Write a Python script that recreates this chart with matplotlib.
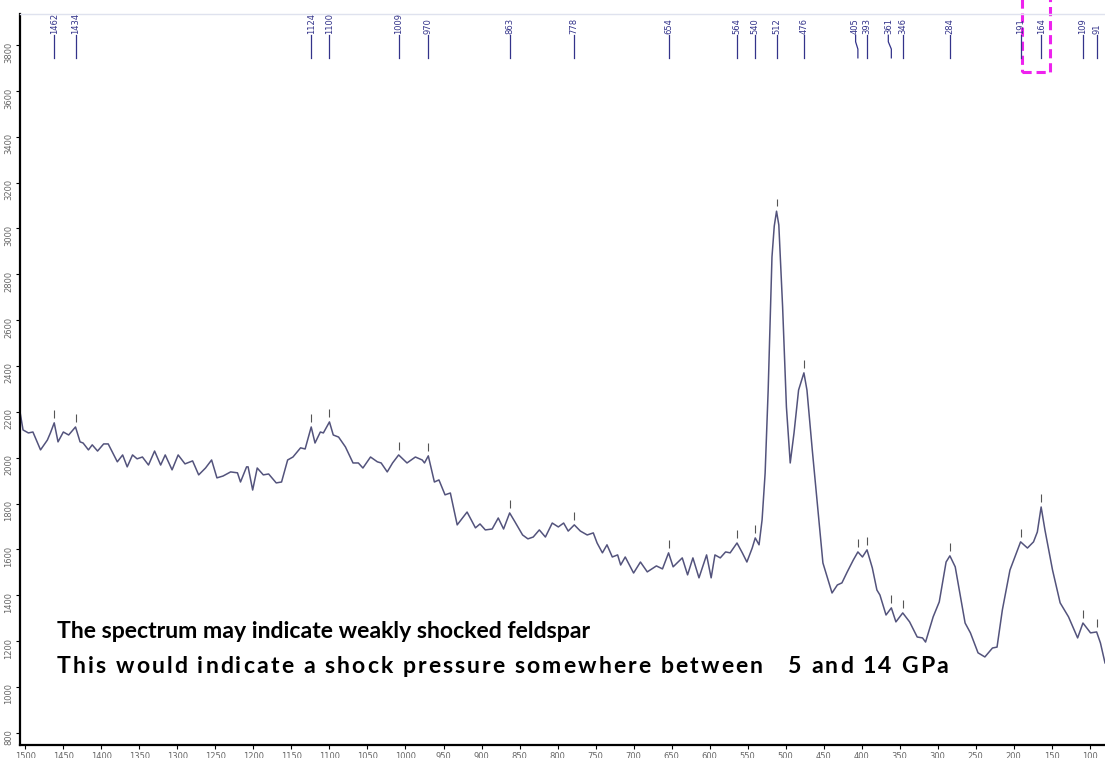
import numpy as np
import matplotlib.pyplot as plt
import matplotlib.transforms as mtransforms
from matplotlib.patches import Rectangle
from matplotlib.font_manager import FontProperties

# Raman spectrum (wavenumber in cm-1, intensity in counts)
wavenumber = [1507, 1503, 1496, 1490, 1480, 1471, 1467, 1462, 1457, 1450, 1443, 1434,
              1428, 1424, 1417, 1412, 1405, 1397, 1391, 1379, 1372, 1366, 1359, 1353,
              1346, 1338, 1330, 1322, 1316, 1307, 1299, 1290, 1280, 1272, 1263, 1255,
              1248, 1240, 1230, 1221, 1217, 1209, 1207, 1201, 1195, 1187, 1180, 1170,
              1163, 1155, 1148, 1138, 1132, 1124, 1119, 1112, 1108, 1100, 1095, 1088,
              1079, 1069, 1062, 1056, 1046, 1037, 1032, 1024, 1017, 1009, 998, 987,
              978, 975, 970, 962, 956, 948, 941, 932, 919, 908, 902, 895,
              886, 878, 871, 863, 856, 846, 839, 832, 824, 816, 807, 799,
              792, 786, 778, 770, 761, 753, 748, 741, 735, 728, 721, 717,
              711, 700, 691, 682, 670, 662, 654, 648, 636, 629, 622, 614,
              604, 598, 593, 586, 579, 573, 564, 557, 551, 544, 540, 535,
              531, 527, 523, 518, 515, 512, 509, 504, 499, 494, 489, 483,
              476, 472, 465, 458, 451, 439, 432, 426, 419, 411, 405, 399,
              393, 386, 380, 376, 368, 361, 355, 346, 337, 327, 320, 316,
              306, 298, 289, 284, 277, 264, 257, 247, 238, 228, 222, 215,
              205, 191, 182, 174, 169, 164, 159, 149, 139, 128, 116, 109,
              99, 91, 86, 80]
intensity = [2200, 2121, 2108, 2112, 2034, 2077, 2108, 2152, 2069, 2112, 2099, 2134,
             2069, 2064, 2034, 2056, 2029, 2060, 2060, 1982, 2012, 1960, 2012, 1995,
             2003, 1968, 2029, 1968, 2012, 1947, 2012, 1973, 1986, 1925, 1955, 1990,
             1912, 1920, 1938, 1934, 1894, 1960, 1960, 1859, 1955, 1925, 1929, 1890,
             1894, 1990, 2003, 2043, 2038, 2134, 2064, 2112, 2108, 2156, 2099, 2090,
             2047, 1977, 1977, 1955, 2003, 1982, 1977, 1938, 1977, 2012, 1977, 2003,
             1990, 1977, 2008, 1894, 1903, 1838, 1846, 1707, 1763, 1694, 1711, 1685,
             1689, 1737, 1689, 1759, 1720, 1663, 1646, 1654, 1685, 1654, 1715, 1698,
             1715, 1680, 1707, 1680, 1663, 1672, 1628, 1585, 1620, 1567, 1576, 1532,
             1567, 1497, 1545, 1502, 1528, 1515, 1585, 1524, 1563, 1489, 1563, 1476,
             1576, 1476, 1576, 1563, 1589, 1585, 1628, 1585, 1545, 1606, 1650, 1620,
             1729, 1933, 2295, 2875, 3010, 3075, 3015, 2657, 2221, 1977, 2108, 2295,
             2370, 2295, 2034, 1785, 1541, 1410, 1445, 1454, 1502, 1554, 1589, 1567,
             1598, 1519, 1423, 1401, 1314, 1345, 1284, 1323, 1284, 1218, 1214, 1196,
             1306, 1371, 1545, 1572, 1524, 1279, 1236, 1149, 1131, 1170, 1174, 1336,
             1510, 1633, 1606, 1633, 1676, 1785, 1685, 1510, 1367, 1306, 1214, 1279,
             1236, 1240, 1192, 1105]

# labelled peaks along the top
peak_positions = [1462, 1434, 1124, 1100, 1009, 970, 863, 778, 654, 564, 540, 512,
                  476, 405, 393, 361, 346, 284, 191, 164, 109, 91]
peak_labels = [str(p) for p in peak_positions]
label_positions = [1462, 1434, 1124, 1100, 1009, 970, 863, 778, 654, 564, 540, 512,
                   476, 408, 393, 365, 346, 284, 191, 164, 109, 91]

x_ticks = list(range(1500, 99, -50))
y_ticks = list(range(800, 3801, 200))

note_1 = "The spectrum may indicate weakly shocked feldspar"
note_2 = "This would indicate a shock pressure somewhere between   5 and 14 GPa"

fig = plt.figure(figsize=(11.05, 7.58), dpi=100)
ax = fig.add_axes([20 / 1105, 13 / 758, 1085 / 1105, 731 / 758])

ax.plot(wavenumber, intensity, color='#53537c', lw=1.1)
ax.set_xlim(1507, 80)
ax.set_ylim(747, 3935)

ax.set_xticks(x_ticks)
ax.set_yticks(y_ticks)
ax.tick_params(axis='both', direction='out', length=3, width=0.8, colors='black',
               labelsize=6, labelcolor='#666666', pad=2)
ax.tick_params(axis='y', labelrotation=90)

ax.spines['right'].set_visible(False)
ax.spines['top'].set_color('#dfe2ee')
ax.spines['top'].set_linewidth(1)
ax.spines['left'].set_linewidth(1.6)
ax.spines['bottom'].set_linewidth(1.6)

# little tick marks above every peak
peak_heights = np.interp(peak_positions, wavenumber[::-1], intensity[::-1])
ax.vlines(peak_positions, peak_heights + 22, peak_heights + 55, color='#555555', lw=0.8)

# peak labels with leader lines at the top
trans = mtransforms.blended_transform_factory(ax.transData, ax.transAxes)
for pos, lab_pos, lab in zip(peak_positions, label_positions, peak_labels):
    ax.plot([pos, pos, lab_pos, lab_pos], [0.940, 0.952, 0.962, 0.971],
            color='#33338a', lw=0.9, transform=trans, clip_on=False)
    ax.text(lab_pos, 0.973, lab, rotation=90, ha='center', va='bottom',
            fontsize=6, color='#33338a', transform=trans)

# dashed highlight around the 164 label
ax.add_patch(Rectangle((189, 0.921), -37, 0.1, transform=trans, fill=False,
                       edgecolor='#ee22ee', lw=2.2, linestyle=(0, (3, 1.6)),
                       clip_on=False))

note_font = FontProperties(family=['Lato', 'DejaVu Sans'], weight='bold', size=16.6)
fig.text(57 / 1105, 1 - 638 / 758, note_1, fontproperties=note_font,
         va='baseline', ha='left')

# second line is set with expanded letter spacing (runs out to x=948 px)
renderer = fig.canvas.get_renderer()
bar_w = renderer.get_text_width_height_descent('|', note_font, ismath=False)[0]


def advance(s):
    return renderer.get_text_width_height_descent(s + '|', note_font, ismath=False)[0] - bar_w


offsets = [advance(note_2[:i]) for i in range(len(note_2))]
track = (891 - advance(note_2)) / (len(note_2) - 1)
for i, ch in enumerate(note_2):
    if ch != ' ':
        fig.text((57 + offsets[i] + i * track) / 1105, 1 - 673 / 758, ch,
                 fontproperties=note_font, va='baseline', ha='left')

fig.savefig('out.png', dpi=100)
